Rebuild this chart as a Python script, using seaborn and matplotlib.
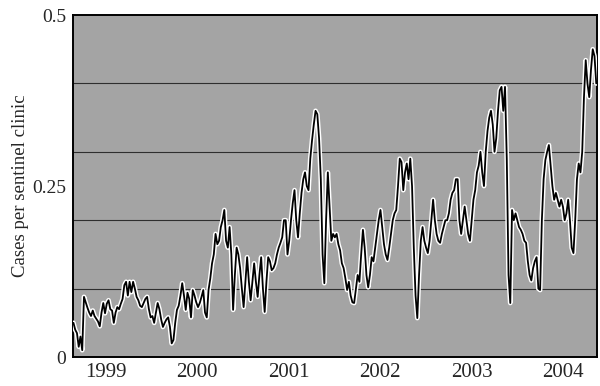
import pandas as pd
import numpy as np
import matplotlib
matplotlib.use("Agg")
import matplotlib.pyplot as plt
import matplotlib.dates as mdates
import matplotlib.patheffects as pe
import seaborn as sns

# weekly series, first week of April 1999 onwards
start_date = "1999-04-02"
cases = [
    0.05, 0.04, 0.035, 0.015, 0.03, 0.01, 0.088, 0.08, 0.072, 0.065,
    0.06, 0.068, 0.06, 0.056, 0.052, 0.045, 0.065, 0.079, 0.064, 0.078,
    0.083, 0.07, 0.068, 0.05, 0.065, 0.073, 0.07, 0.078, 0.085, 0.105,
    0.11, 0.09, 0.11, 0.095, 0.11, 0.1, 0.088, 0.083, 0.075, 0.073,
    0.079, 0.085, 0.088, 0.07, 0.058, 0.06, 0.05, 0.065, 0.079, 0.07,
    0.055, 0.044, 0.05, 0.055, 0.058, 0.044, 0.02, 0.025, 0.05, 0.069,
    0.075, 0.09, 0.108, 0.09, 0.069, 0.094, 0.085, 0.058, 0.098, 0.09,
    0.08, 0.073, 0.079, 0.088, 0.098, 0.065, 0.058, 0.098, 0.115, 0.137,
    0.15, 0.18, 0.165, 0.17, 0.19, 0.2, 0.215, 0.17, 0.16, 0.19,
    0.15, 0.069, 0.12, 0.16, 0.15, 0.13, 0.1, 0.073, 0.11, 0.146,
    0.11, 0.083, 0.11, 0.137, 0.11, 0.088, 0.12, 0.146, 0.1, 0.066,
    0.11, 0.146, 0.14, 0.127, 0.13, 0.137, 0.15, 0.16, 0.167, 0.175,
    0.2, 0.2, 0.15, 0.17, 0.2, 0.225, 0.244, 0.2, 0.175, 0.21,
    0.24, 0.26, 0.27, 0.25, 0.244, 0.29, 0.317, 0.34, 0.36, 0.355,
    0.32, 0.26, 0.15, 0.108, 0.2, 0.27, 0.22, 0.17, 0.18, 0.175,
    0.18, 0.165, 0.156, 0.137, 0.13, 0.115, 0.098, 0.11, 0.09, 0.08,
    0.079, 0.1, 0.12, 0.11, 0.15, 0.186, 0.16, 0.12, 0.102, 0.12,
    0.146, 0.14, 0.16, 0.18, 0.2, 0.215, 0.19, 0.165, 0.15, 0.142,
    0.16, 0.18, 0.2, 0.21, 0.215, 0.25, 0.29, 0.285, 0.244, 0.27,
    0.283, 0.26, 0.29, 0.25, 0.16, 0.09, 0.057, 0.12, 0.17, 0.19,
    0.17, 0.16, 0.152, 0.17, 0.2, 0.23, 0.2, 0.18, 0.17, 0.167,
    0.18, 0.19, 0.2, 0.2, 0.21, 0.23, 0.24, 0.244, 0.26, 0.26,
    0.2, 0.18, 0.2, 0.22, 0.2, 0.18, 0.17, 0.2, 0.23, 0.244,
    0.27, 0.28, 0.3, 0.27, 0.25, 0.3, 0.33, 0.35, 0.36, 0.34,
    0.3, 0.32, 0.36, 0.39, 0.395, 0.36, 0.395, 0.29, 0.12, 0.079,
    0.215, 0.2, 0.21, 0.2, 0.19, 0.186, 0.18, 0.17, 0.167, 0.14,
    0.12, 0.112, 0.13, 0.14, 0.146, 0.1, 0.098, 0.2, 0.26, 0.288,
    0.3, 0.31, 0.28, 0.25, 0.23, 0.24, 0.23, 0.22, 0.23, 0.22,
    0.2, 0.21, 0.23, 0.2, 0.16, 0.152, 0.2, 0.26, 0.283, 0.27,
    0.3, 0.38, 0.434, 0.4, 0.38, 0.42, 0.45, 0.44, 0.4,
]
years = [1999, 2000, 2001, 2002, 2003, 2004]
y_ticks = [0, 0.25, 0.5]
y_grid = [0.1, 0.2, 0.3, 0.4]

df = pd.DataFrame({
    "week": pd.date_range(start_date, periods=len(cases), freq="7D"),
    "cases": cases,
})

sns.set_theme(style="white")
plt.rcParams["font.family"] = ["Liberation Serif", "DejaVu Serif"]

fig = plt.figure(figsize=(6, 3.86), dpi=100)
ax = fig.add_axes([0.122, 0.075, 0.873, 0.886])
ax.set_facecolor("#a4a4a4")

for g in y_grid:
    ax.axhline(g, color="#2e2e2e", lw=0.8, zorder=1)

sns.lineplot(data=df, x="week", y="cases", ax=ax, color="black", lw=1.3,
             zorder=3,
             path_effects=[pe.Stroke(linewidth=3.4, foreground="white"), pe.Normal()])

ax.set_xlim(pd.Timestamp("1999-04-01"), pd.Timestamp("2004-12-20"))
ax.set_ylim(0, 0.5)

# year boundaries as small ticks, labels near mid-year
ax.set_xticks([pd.Timestamp(f"{y}-01-01") for y in years[1:]])
ax.set_xticklabels([])
ax.set_xticks([pd.Timestamp(f"{y}-08-08") for y in years], minor=True)
ax.set_xticklabels([str(y) for y in years], minor=True, fontsize=15)
ax.tick_params(axis="x", which="major", direction="in", length=3, width=1.2, color="black")
ax.tick_params(axis="x", which="minor", length=0, pad=4)

ax.set_yticks(y_ticks)
ax.set_yticklabels(["0", "0.25", "0.5"], fontsize=14)
ax.tick_params(axis="y", length=0, pad=5)

ax.set_xlabel("")
ax.set_ylabel("Cases per sentinel clinic", fontsize=13.5, labelpad=2)

for s in ax.spines.values():
    s.set_color("black")
    s.set_linewidth(1.4)

fig.savefig("out.png", dpi=100)
